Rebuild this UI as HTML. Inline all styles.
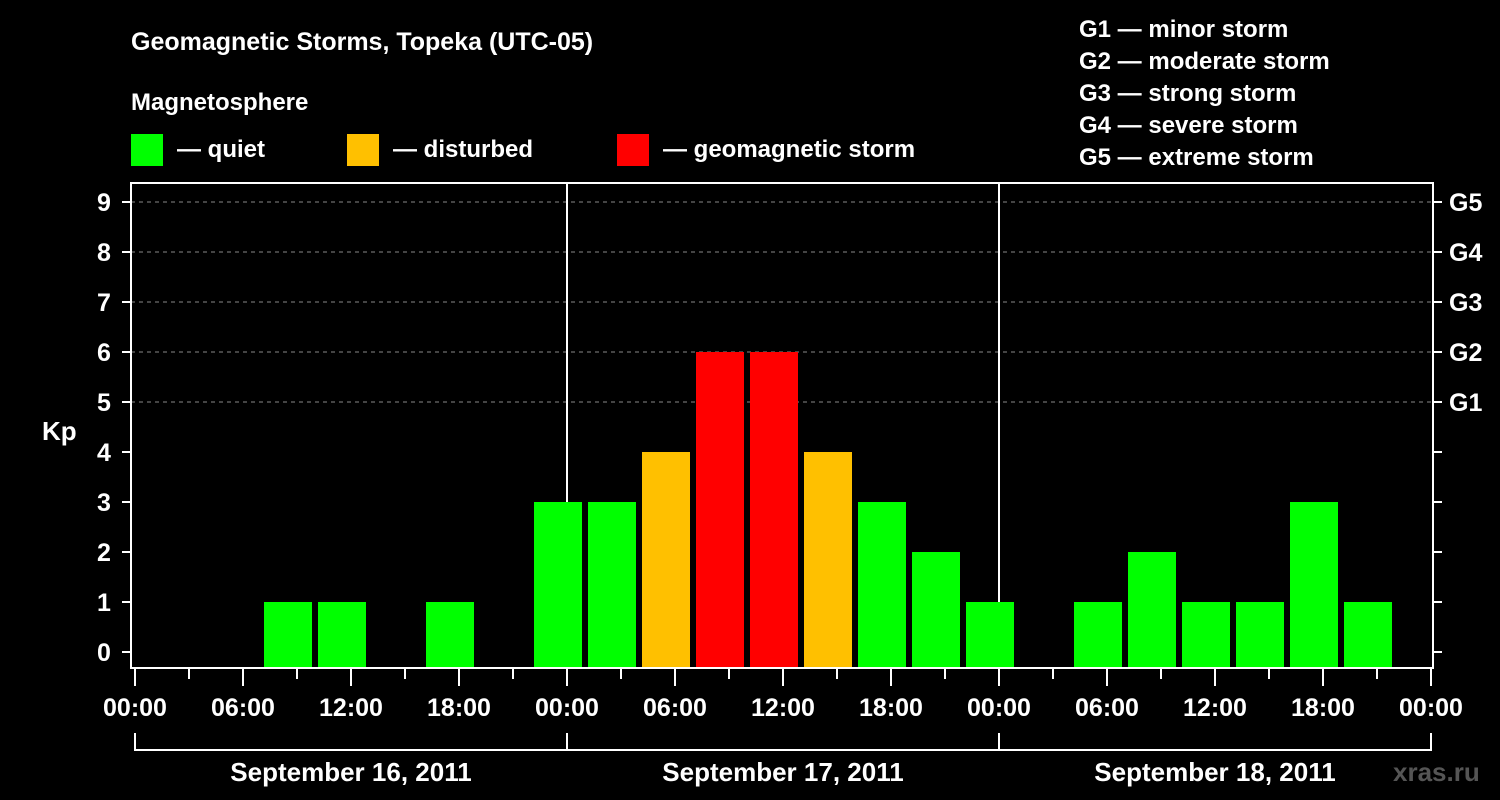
<!DOCTYPE html>
<html><head><meta charset="utf-8"><style>
html,body{margin:0;padding:0;background:#000;}
svg{display:block;font-family:"Liberation Sans",Arial,sans-serif;font-weight:bold;}
</style></head><body>
<svg id="chart" width="1500" height="800" viewBox="0 0 1500 800">
<text x="131" y="50" fill="#fff" font-size="25">Geomagnetic Storms, Topeka (UTC-05)</text>
<text x="131" y="110" fill="#fff" font-size="24">Magnetosphere</text>
<g>
<rect x="131" y="134" width="32" height="32" fill="#00ff00"/>
<text x="177" y="157" fill="#fff" font-size="24">— quiet</text>
<rect x="347" y="134" width="32" height="32" fill="#ffc000"/>
<text x="393" y="157" fill="#fff" font-size="24">— disturbed</text>
<rect x="617" y="134" width="32" height="32" fill="#ff0000"/>
<text x="663" y="157" fill="#fff" font-size="24">— geomagnetic storm</text>
</g>
<g fill="#fff" font-size="24">
<text x="1079" y="37">G1 — minor storm</text>
<text x="1079" y="69">G2 — moderate storm</text>
<text x="1079" y="101">G3 — strong storm</text>
<text x="1079" y="133">G4 — severe storm</text>
<text x="1079" y="165">G5 — extreme storm</text>
</g>
<text x="42" y="440" fill="#fff" font-size="26">Kp</text>
<text x="1393" y="781" fill="#555" font-size="26">xras.ru</text>
<g id="grid"></g><g id="bars"></g><g id="axes"></g>
</svg>
<script>
const days = ["September 16, 2011","September 17, 2011","September 18, 2011"];
const kpDay1 = [0,0,1,1,0,1,0,3];
const kpDay2 = [3,4,6,6,4,3,2,1];
const kpDay3 = [0,1,2,1,1,3,1,0];
const yTicks = [0,1,2,3,4,5,6,7,8,9];
const gLabels = ["G1","G2","G3","G4","G5"];
const gLevels = [5,6,7,8,9];
const timeLabels = ["00:00","06:00","12:00","18:00"];

const NS="http://www.w3.org/2000/svg";
const X0=135, DAYW=432, SLOT=54, PL=131, PR=1433, PT=183, PB=668;
const y=v=>652-v*50;
const xh=h=>X0+h*DAYW/24;
function mk(tag,attrs,parent,text){const e=document.createElementNS(NS,tag);for(const k in attrs)e.setAttribute(k,attrs[k]);if(text!=null)e.textContent=text;document.getElementById(parent).appendChild(e);return e;}
function col(v){return v>=5?"#ff0000":(v>=4?"#ffc000":"#00ff00");}

// gridlines
gLevels.forEach(v=>{
  const l=mk("line",{x1:PL,x2:PR,y1:y(v),y2:y(v),stroke:"#888","stroke-width":1,"stroke-dasharray":"4,4"},"grid");
  
  
});
// day separators
[1,2].forEach(d=>{
  const l=mk("line",{x1:X0+d*DAYW,x2:X0+d*DAYW,y1:PT,y2:PB,stroke:"#fff","stroke-width":2},"grid");
  
  
});
// bars
[kpDay1,kpDay2,kpDay3].forEach((arr,d)=>{
  arr.forEach((v,i)=>{
    if(v<=0)return;
    const x=xh(d*24+i*3)+21;
    const r=mk("rect",{x:x,y:y(v),width:48,height:PB-1-y(v),fill:col(v)},"bars");
    
    
  });
});
// frame
const fr=mk("rect",{x:PL,y:PT,width:PR-PL,height:PB-PT,fill:"none",stroke:"#fff","stroke-width":2},"axes");


// y ticks
yTicks.forEach(v=>{
  const t=mk("line",{x1:122,x2:PL,y1:y(v),y2:y(v),stroke:"#fff","stroke-width":2},"axes");
  
  
  const t2=mk("line",{x1:PR,x2:1442,y1:y(v),y2:y(v),stroke:"#fff","stroke-width":2},"axes");
  
  
  const lb=mk("text",{x:104,y:y(v)+9,fill:"#fff","font-size":25,"text-anchor":"middle"},"axes",String(v));
  
  
});
gLevels.forEach((v,i)=>{
  const lb=mk("text",{x:1449,y:y(v)+9,fill:"#fff","font-size":25},"axes",gLabels[i]);
  
  
});
// x ticks
for(let h=0;h<=72;h+=3){
  const major=h%6===0;
  const t=mk("line",{x1:xh(h),x2:xh(h),y1:PB,y2:major?686:679,stroke:"#fff","stroke-width":2},"axes");
  
  
  if(major){
    const lb=mk("text",{x:xh(h),y:716,fill:"#fff","font-size":25,"text-anchor":"middle"},"axes",timeLabels[(h/6)%4]);
    
    
  }
}
// day brackets
const br=mk("line",{x1:X0,x2:X0+3*DAYW,y1:750,y2:750,stroke:"#fff","stroke-width":2},"axes");


for(let d=0;d<=3;d++){
  const v=mk("line",{x1:X0+d*DAYW,x2:X0+d*DAYW,y1:733,y2:751,stroke:"#fff","stroke-width":2},"axes");
  
  
}
days.forEach((s,d)=>{
  const lb=mk("text",{x:X0+d*DAYW+DAYW/2,y:781,fill:"#fff","font-size":26,"text-anchor":"middle"},"axes",s);
  
  
});
</script>
</body></html>
